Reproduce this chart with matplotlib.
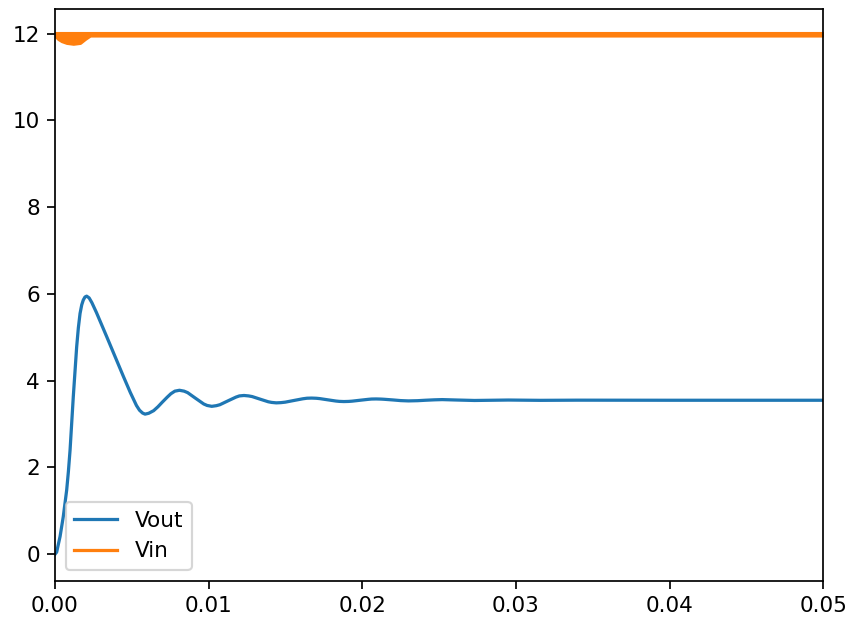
import matplotlib
matplotlib.use("Agg")
import matplotlib.pyplot as plt
from matplotlib.lines import Line2D

# Vout transient (time in s, volts)
t_out = [0.0, 0.00011, 0.0002, 0.00033, 0.00054, 0.00076, 0.00087, 0.00098, 0.00119,
         0.00141, 0.00152, 0.00163, 0.00174, 0.00184, 0.00195, 0.00206, 0.00222,
         0.0024, 0.0027, 0.0030, 0.00336, 0.0040,
         0.00445, 0.0049, 0.0053, 0.0055, 0.0057, 0.00586, 0.0061,
         0.00642, 0.0067, 0.00698, 0.0073, 0.00754, 0.0078, 0.0081,
         0.0084, 0.00863, 0.00915, 0.00968, 0.0099, 0.0102, 0.0105,
         0.01073, 0.01125, 0.01178, 0.0120, 0.0123, 0.0126,
         0.01283, 0.01335, 0.01388, 0.0141, 0.0144, 0.0147,
         0.01498, 0.01555, 0.01613, 0.0164, 0.0167, 0.0170,
         0.01723, 0.01775, 0.01828, 0.0185, 0.0188, 0.0191,
         0.01933, 0.01985, 0.02038, 0.0206, 0.0209, 0.0212,
         0.0214, 0.0220, 0.0225, 0.0230,
         0.0236, 0.0241, 0.0247, 0.0252,
         0.0262, 0.0273, 0.0284, 0.0295, 0.0316, 0.0340, 0.0400, 0.0500]
v_out = [0.0, 0.05, 0.2, 0.41, 0.87, 1.48, 1.90, 2.40, 3.63,
         4.78, 5.22, 5.55, 5.75, 5.86, 5.93, 5.95, 5.91,
         5.80, 5.57, 5.32, 5.02, 4.48,
         4.10, 3.73, 3.43, 3.32, 3.255, 3.23, 3.25,
         3.31, 3.40, 3.505, 3.62, 3.70, 3.76, 3.78,
         3.76, 3.726, 3.595, 3.464, 3.43, 3.41, 3.425,
         3.447, 3.535, 3.623, 3.65, 3.66, 3.65,
         3.635, 3.575, 3.515, 3.50, 3.49, 3.495,
         3.506, 3.545, 3.584, 3.597, 3.60, 3.596,
         3.588, 3.56, 3.532, 3.524, 3.52, 3.523,
         3.529, 3.55, 3.571, 3.578, 3.58, 3.577,
         3.573, 3.557, 3.542, 3.535,
         3.54, 3.55, 3.56, 3.565,
         3.555, 3.545, 3.55, 3.555, 3.548, 3.552, 3.55, 3.55]

# Vin: fast switching ripple, drawn as its envelope
t_in = [0.0, 0.00021, 0.00044, 0.00076, 0.00119, 0.00163, 0.00195, 0.00228, 0.0050, 0.0500]
vin_low = [11.96, 11.88, 11.83, 11.79, 11.77, 11.79, 11.88, 11.96, 11.96, 11.96]
vin_high = [12.015, 12.015, 12.015, 12.015, 12.015, 12.015, 12.015, 12.015, 12.015, 12.015]

labels = ["Vout", "Vin"]

fig = plt.figure(figsize=(849 / 155, 619 / 155), dpi=155)
ax = fig.add_axes([55 / 849, 1 - 580.7 / 619, (823.3 - 55) / 849, (580.7 - 9) / 619])

ax.plot(t_out, v_out, color="C0", lw=1.5)
ax.fill_between(t_in, vin_low, vin_high, facecolor="C1", edgecolor="C1", lw=1.5)

ax.set_xlim(0, 0.05)
ax.set_ylim(-0.61, 12.57)
ax.set_yticks([0, 2, 4, 6, 8, 10, 12])
ax.set_xticks([0, 0.01, 0.02, 0.03, 0.04, 0.05])

handles = [Line2D([], [], color="C0", lw=1.5), Line2D([], [], color="C1", lw=1.5)]
ax.legend(handles, labels, loc="lower left")

fig.savefig("out.png", dpi=155)
